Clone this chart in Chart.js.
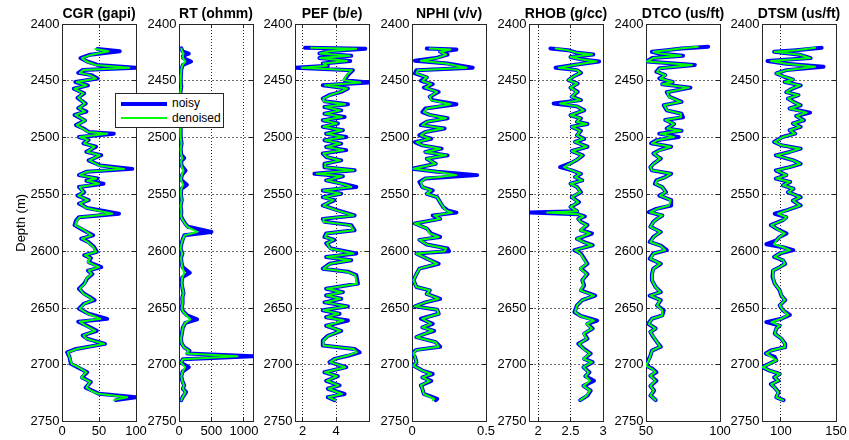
<!DOCTYPE html>
<html>
<head>
<meta charset="utf-8">
<script src="https://cdn.jsdelivr.net/npm/chart.js@4/dist/chart.umd.min.js"></script>
<style>
  html, body { margin: 0; padding: 0; background: #fff; }
  #wrap { position: relative; width: 849px; height: 440px; overflow: hidden; background: #fff; }
  #wrap canvas { position: absolute; top: 0; }
  #legend { position: absolute; left: 115px; top: 93px; width: 107px; height: 33px;
            border: 1px solid #262626; background: #fff; z-index: 10;
            font: 12px "Liberation Sans", Arial, sans-serif; color: #000; }
  #legend .swatch { position: absolute; left: 5px; width: 46px; }
  #legend .lbl { position: absolute; left: 56px; height: 16px; line-height: 16px; }
</style>
</head>
<body>
<div id="wrap">
  <div id="legend">
    <div class="swatch" style="top:8px;height:4px;background:#0000ff;"></div>
    <div class="lbl" style="top:1px;">noisy</div>
    <div class="swatch" style="top:23px;height:2px;background:#00ff00;"></div>
    <div class="lbl" style="top:16px;">denoised</div>
  </div>
</div>
<script>
// ---- well-log curves: depth (m) and log values, noisy vs denoised ----
const depthTicks = [2400, 2450, 2500, 2550, 2600, 2650, 2700, 2750];

// CGR (gapi)
const cgrTicks = [0, 50, 100];
const cgrDepth = [2422,2424,2427,2430,2433,2436,2438.5,2440.5,2443,2445,
  2448,2451,2454,2457,2461,2465,2470,2474,2477,2480,
  2485,2489,2492,2495,2496.5,2499.5,2502,2505,2508,2512.5,
  2515.5,2520,2524.5,2527.5,2530,2533,2536,2538,2540.5,2543.5,
  2548,2551,2555,2558,2562,2567,2570,2573,2577,2581.5,
  2586,2589,2592,2596,2600.5,2603.5,2606,2609.5,2614,2617,
  2620,2624,2628.5,2633,2637.5,2640,2643,2646,2650.5,2655,
  2659.5,2662,2665,2670,2674,2677,2681.5,2686,2689,2693,
  2699,2702,2706.5,2711,2715,2720,2723,2725.5,2728.5,2731];
const cgrDenoised = [45,63,40,27,33,45,91,29,24,38,
  46,20,33,17,29,22,31,23,31,18,
  31,20,28,35,61,24,35,30,44,34,
  51,37,50,84,34,24,46,34,50,24,
  29,22,35,24,33,68,24,20,18,30,
  40,27,35,42,46,31,38,35,50,36,
  40,33,31,24,29,36,42,31,24,35,
  52,24,31,45,29,33,57,20,8,10,
  13,22,33,26,38,33,40,49,88,70];
const cgrNoisy = [48,78,38,25,34,48,100,28,22,40,
  48,18,35,16,30,21,32,22,33,17,
  31,19,29,36,70,23,36,29,46,33,
  53,36,52,95,33,23,48,33,56,23,
  30,21,36,23,34,77,23,19,17,29,
  42,26,36,43,47,30,39,36,53,35,
  41,34,30,23,30,37,44,30,23,36,
  61,22,32,47,28,34,58,19,7,10,
  12,21,34,27,39,32,42,50,100,73];

// RT (ohmm)
const rtTicks = [0, 500, 1000];
const rtDepth = [2421.5,2424,2426,2428,2430,2433,2436,2440,2445,2450,
  2455,2460,2465,2470,2475,2480,2485,2490,2495,2500,
  2505,2510,2515,2518,2521,2525,2529,2533,2537,2541.5,
  2545,2550,2555,2560,2565,2569,2572.5,2576,2578.5,2583,
  2586,2590,2594,2598,2602,2606,2610,2614,2619,2623,
  2628,2633,2637,2641,2646,2650,2653,2656.5,2660,2663,
  2667,2672,2677,2681,2684.5,2687.5,2690,2692.5,2695,2698,
  2702,2706,2710,2714,2718,2721,2724,2728.5,2731];
const rtDenoised = [35,50,70,55,60,100,55,35,30,25,
  32,22,30,20,28,22,32,20,28,22,
  38,26,32,55,30,42,70,42,30,65,
  35,30,42,25,36,30,55,95,130,280,
  85,55,35,25,50,30,40,50,80,50,
  40,55,70,50,55,40,60,115,175,95,
  60,45,30,40,75,150,120,900,60,30,
  95,55,35,50,75,60,100,55,35];
const rtNoisy = [35,55,150,60,65,185,60,35,30,25,
  35,22,32,20,28,22,34,20,30,22,
  40,26,34,80,30,44,100,45,30,120,
  35,30,42,25,36,30,60,100,140,500,
  80,55,35,25,52,30,40,55,165,50,
  40,55,70,50,55,40,65,125,278,100,
  60,45,30,40,80,160,130,1140,60,30,
  150,55,35,50,80,60,110,55,35];

// PEF (b/e)
const pefTicks = [2, 4];
const pefDepth = [2421,2421.8,2424,2426,2428,2430,2432.6,2434.7,2436.8,2438.5,
  2440.6,2445,2449.4,2451.5,2454,2456.8,2459.7,2462.5,2465.6,2468,
  2470.6,2473,2476,2479,2481.8,2484.7,2487.6,2490.5,2493.5,2496.5,
  2499.4,2502.3,2505.3,2508.2,2511,2514,2517,2520,2523,2526,
  2528.8,2531.8,2534,2537.6,2541,2543.5,2546.5,2549.4,2552.4,2555,
  2559.7,2564,2568.5,2571.5,2574,2577,2581.5,2584.4,2587.4,2590,
  2593,2597.6,2602,2605,2608,2611,2615.3,2618,2621,2628.5,
  2633,2636,2639,2641.8,2645,2648.5,2652,2655,2658,2661,
  2665.6,2670,2674.4,2678.5,2683,2686,2689,2692,2694.7,2697.6,
  2702,2706.5,2710,2714,2718,2721,2725.6,2728.5,2731];
const pefDenoised = [2.5,5.2,3.6,3.04,4.8,3.04,4.64,3.24,3.44,1.94,
  4.94,4.64,4.44,5.44,3.34,4.64,4.24,3.64,3.24,3.24,
  4.54,3.34,4.24,3.34,4.34,3.24,4.04,3.24,4.34,3.44,
  4.44,3.34,4.24,3.44,4.44,3.24,3.44,4.24,3.34,3.34,
  5.04,2.84,4.34,3.44,4.44,4.9,3.24,4.24,3.24,3.84,
  3.24,4.04,5.04,3.24,3.24,4.84,5.04,3.44,3.34,3.84,
  3.44,3.64,5.04,3.44,4.84,3.64,3.24,4.64,5.14,5.24,
  3.44,4.34,3.44,4.24,3.34,4.64,3.24,4.14,3.44,4.44,
  3.44,4.24,3.54,3.24,3.24,5.04,5.24,4.64,3.94,3.64,
  4.54,3.34,4.04,3.44,4.14,3.54,4.34,3.54,3.94];
const pefNoisy = [2.14,5.74,3.5,3.0,4.9,3.0,4.84,3.2,3.5,1.54,
  5.0,4.7,4.5,5.96,3.2,4.7,4.3,3.6,3.2,3.3,
  4.7,3.3,4.3,3.3,4.5,3.2,4.1,3.2,4.4,3.4,
  4.6,3.3,4.3,3.4,4.6,3.2,3.4,4.3,3.3,3.3,
  5.1,2.7,4.4,3.4,4.5,5.2,3.2,4.3,3.2,3.9,
  3.2,4.1,5.1,3.2,3.3,4.9,5.1,3.4,3.3,3.9,
  3.4,3.7,5.2,3.4,4.9,3.6,3.2,4.7,5.2,5.3,
  3.4,4.4,3.4,4.3,3.3,4.7,3.2,4.2,3.4,4.7,
  3.4,4.3,3.5,3.2,3.2,5.1,5.4,4.7,3.9,3.6,
  4.6,3.3,4.1,3.4,4.2,3.5,4.5,3.5,3.9];

// NPHI (v/v)
const nphiTicks = [0, 0.5];
const nphiDepth = [2421.5,2422.5,2424.4,2427,2430,2432.4,2434.7,2438.5,2440.6,2443.5,
  2447,2450,2453,2456,2459.7,2464,2467,2470.6,2474.4,2477.5,
  2480,2483,2486,2489,2492,2495,2498,2501,2504,2506.8,
  2509.7,2512.6,2515.6,2518.5,2523,2527.4,2530,2533,2536,2539,
  2543.5,2546.5,2549.4,2552.4,2556.8,2561,2564,2566,2568.5,2571.5,
  2575.6,2580,2584.4,2587.4,2590,2594,2597.6,2600,2602,2606.5,
  2611,2615.3,2620,2625.6,2631.5,2634.4,2637.5,2641.8,2645,2648.5,
  2651.5,2655,2659.4,2663.8,2667,2670,2673,2675.6,2680,2684,
  2686.8,2689.7,2693,2697.6,2700.6,2705,2708,2711,2714,2718,
  2721,2725.6,2730,2731];
const nphiDenoised = [0.12,0.26,0.19,0.23,0.17,0.06,0.23,0.37,0.04,0.03,
  0.10,0.07,0.13,0.09,0.17,0.12,0.13,0.26,0.10,0.08,
  0.12,0.23,0.10,0.07,0.21,0.09,0.06,0.12,0.03,0.07,
  0.19,0.09,0.23,0.10,0.16,0.01,0.17,0.30,0.09,0.06,
  0.07,0.13,0.10,0.17,0.19,0.21,0.23,0.27,0.15,0.19,
  0.02,0.10,0.12,0.18,0.05,0.10,0.23,0.22,0.03,0.10,
  0.17,0.05,0.03,0.01,0.03,0.12,0.10,0.18,0.09,0.02,
  0.17,0.18,0.07,0.13,0.07,0.14,0.08,0.03,0.16,0.18,
  0.03,0.01,0.02,0.03,0.01,0.07,0.13,0.07,0.12,0.06,
  0.07,0.08,0.15,0.14];
const nphiNoisy = [0.10,0.30,0.19,0.24,0.16,0.02,0.24,0.41,0.03,0.02,
  0.10,0.06,0.14,0.08,0.18,0.12,0.14,0.30,0.09,0.07,
  0.12,0.24,0.10,0.06,0.22,0.09,0.05,0.13,0.02,0.07,
  0.20,0.09,0.24,0.10,0.16,0.00,0.17,0.44,0.09,0.05,
  0.07,0.14,0.10,0.17,0.19,0.21,0.24,0.30,0.14,0.19,
  0.02,0.10,0.13,0.19,0.05,0.10,0.24,0.25,0.03,0.10,
  0.18,0.05,0.03,0.01,0.03,0.12,0.10,0.19,0.09,0.02,
  0.17,0.18,0.06,0.14,0.07,0.15,0.08,0.03,0.16,0.19,
  0.03,0.00,0.02,0.03,0.01,0.07,0.14,0.07,0.13,0.06,
  0.07,0.08,0.17,0.16];

// RHOB (g/cc)
const rhobTicks = [2, 2.5, 3];
const rhobDepth = [2421.5,2423,2425,2426.8,2429,2431,2433,2435.6,2438.5,2440.6,
  2443,2446,2449.4,2452.4,2456,2459.7,2464,2467,2470,2472.5,
  2476,2480.3,2483,2486,2488,2490.5,2494,2498,2501,2503.8,
  2508,2511.8,2515.6,2519.4,2522,2526,2528.8,2531.8,2534.7,2537.6,
  2540.6,2543.5,2548,2552.4,2556.8,2561,2564.7,2566,2567.5,2569.4,
  2571.5,2574,2577,2581.5,2584.4,2589,2592,2594.7,2599,2602,
  2606.5,2611,2615.3,2620,2625.6,2630,2634.4,2639,2643,2647.6,
  2653.5,2657,2661,2664,2668,2672.5,2677,2681.5,2686,2690,
  2694.7,2697.6,2702,2706.5,2710,2714,2718.5,2722.6,2727,2731];
const rhobDenoised = [2.27,2.45,2.58,2.83,2.50,2.65,2.90,2.60,2.32,2.60,
  2.65,2.55,2.47,2.60,2.50,2.60,2.52,2.65,2.34,2.60,
  2.70,2.50,2.65,2.60,2.75,2.52,2.65,2.60,2.70,2.57,
  2.75,2.52,2.68,2.60,2.52,2.40,2.52,2.65,2.57,2.68,
  2.50,2.60,2.65,2.52,2.62,2.50,2.60,2.14,2.62,2.70,
  2.62,2.65,2.75,2.65,2.80,2.60,2.70,2.83,2.57,2.65,
  2.70,2.75,2.65,2.75,2.68,2.70,2.65,2.86,2.68,2.60,
  2.57,2.65,2.86,2.75,2.83,2.70,2.75,2.63,2.70,2.80,
  2.70,2.83,2.70,2.78,2.73,2.80,2.70,2.80,2.75,2.65];
const rhobNoisy = [2.19,2.46,2.58,2.85,2.50,2.66,2.94,2.60,2.27,2.60,
  2.66,2.55,2.47,2.61,2.50,2.61,2.52,2.66,2.24,2.60,
  2.71,2.50,2.66,2.60,2.76,2.52,2.66,2.60,2.71,2.57,
  2.76,2.52,2.69,2.60,2.52,2.34,2.52,2.66,2.57,2.68,
  2.50,2.60,2.66,2.52,2.63,2.50,2.60,1.87,2.62,2.72,
  2.62,2.66,2.76,2.66,2.83,2.60,2.71,2.84,2.56,2.66,
  2.71,2.76,2.66,2.76,2.68,2.71,2.66,2.88,2.68,2.60,
  2.56,2.66,2.91,2.76,2.84,2.71,2.76,2.62,2.71,2.81,
  2.71,2.84,2.70,2.79,2.73,2.86,2.70,2.81,2.76,2.65];

// DTCO (us/ft)
const dtcoTicks = [50, 100];
const dtcoDepth = [2420,2421.5,2423,2424.5,2426,2428,2430,2433,2436,2439,
  2442,2445,2448,2451,2453,2456,2460,2464,2468.5,2471.5,
  2476,2479,2482,2484.5,2488,2492,2494,2496.5,2499.4,2502.3,
  2505,2508,2511,2514,2518.5,2523,2526,2528.8,2531.8,2534.7,
  2537.6,2540.6,2543.5,2548,2551,2555,2559.7,2562.7,2565.6,2568.5,
  2571.5,2574,2578.5,2583,2587.4,2591.8,2595,2599,2602,2606.5,
  2611,2615.3,2620,2625.6,2631.5,2636,2639,2643,2647.6,2652,
  2656.5,2659.4,2663.8,2668,2671,2675.6,2680,2684,2687.4,2691.8,
  2696,2700.6,2703.5,2706.5,2709.5,2714,2718.5,2722.6,2727,2731];
const dtcoDenoised = [85,73,64.4,55,59.6,73.5,55,50.7,81,59.6,
  57.5,63,59.6,67.8,61,79,64.4,65.5,73.5,62.3,
  64.4,73.5,73.5,63.2,68.9,64.4,73.5,59.6,68.9,57.5,
  54.1,66.6,59.6,55.2,59.6,55.2,53,54.1,66.6,63.2,
  57.5,56.4,61,63.2,59.6,66.6,65.5,57.5,53,61,
  57.5,55.2,53,59.6,55.2,53,59.6,63,55.2,53,
  59.6,55.2,54.1,54.1,56.4,59.6,53,59.6,57.5,61,
  61,54.1,51.8,56.4,53,55.2,57.5,59.6,54.1,53,
  51.8,50,54.1,56.4,53,56.4,53,55.2,53,56.4];
const dtcoNoisy = [92,74,64,54,59,75,54,50.5,83,59,
  57,63,59,68,61,80,64,66,74,62,
  64,74,75,63,69,64,74,59,72,57,
  53.5,67,59,55,60,55,53,54,67,63,
  57,56,61,63.5,59,67,67,57,52,61,
  57.5,55,53,60,55,52.5,60,64,55,52.5,
  60,55,54,54,56.5,60,52.5,60,57.5,62,
  61,54,51.5,56.5,53,55,57.5,60,54,53,
  51.5,50,54.5,57,53,57,53,55.5,53,56.5];

// DTSM (us/ft)
const dtsmTicks = [100, 150];
const dtsmDepth = [2421,2423,2424.5,2427,2430,2432.6,2435,2437.6,2440.6,2443.5,
  2446,2449,2451,2454,2457,2460,2462.6,2465.6,2468.5,2471.5,
  2474.4,2478,2481,2484.7,2487.6,2490.5,2493.5,2496.5,2499.4,2503.8,
  2506.7,2509.7,2512.6,2515.6,2520,2523,2526,2528.8,2533,2536,
  2539,2542,2545,2548,2552.4,2555.5,2559.7,2564,2567,2570,
  2572.6,2577,2580,2584.4,2587.4,2590.5,2593.8,2596.5,2599,2602,
  2605,2608,2611,2614,2617,2622.6,2628.5,2634.4,2639,2643,
  2647.6,2652,2656,2659.4,2662.4,2665.4,2668,2672.5,2677,2681.5,
  2684.4,2687.4,2690,2693,2696,2699,2702,2705,2708,2711,
  2714,2717,2720,2724,2728.5,2731];
const dtsmDenoised = [131,114.3,94.5,117.4,126.5,91,105.2,131,105.2,96,
  102.1,111,103.7,117.4,109.8,105.2,115.9,106.7,111.3,117.4,
  108.2,123.5,114.3,120.4,111.3,117.4,108.2,112.8,102.1,94.5,
  100.6,117.4,108.2,96,111.3,117.4,108.2,96,105.2,96,
  108.2,102.1,111.3,106.7,117.4,111.3,117.4,105.2,97.6,105.2,
  102.1,91.5,96,103.7,99.1,96,94,102.1,108.2,99.1,
  94.5,102.1,103.7,99.1,93,93,94.5,99.1,100.6,103.7,
  99.1,102.1,106.7,100.6,91.5,99.1,96,94.5,100.6,103.7,
  103.7,91.5,86.9,91.5,96,89.9,83.8,89.9,99.1,94.5,
  97.6,91.5,94.5,97.6,96,102.1];
const dtsmNoisy = [137,114,94,117,127,88,105,138.7,105,96,
  102,111,103.5,118,110,105,116,106.5,111.5,118,
  108,126.5,114,121,111,118,108,113,101.5,94,
  100.5,118,108,95.5,111.5,118,108,95.5,105,95.5,
  108.5,102,111.5,106.5,118,111,118,105,94.5,105,
  102,91,96,105.2,99,96,87,102,111.3,99,
  94,102,104,99,93,92.5,94.5,99,100.5,104,
  99,102,108.2,100.5,86.9,99,96,94.5,100.5,104,
  104,91,86.5,94.5,96,89.5,83.2,90,99,94,
  98,91,94.5,98,96,102.5];

// ---- layout and drawing ----
const FONT = '"Liberation Sans", Arial, Helvetica, sans-serif';
const PLOT_W = 74;

const tracks = [
  { title: 'CGR (gapi)',   depth: cgrDepth,  noisy: cgrNoisy,  den: cgrDenoised,  min: 0,    max: 100,  ticks: cgrTicks,  left: 62 },
  { title: 'RT (ohmm)',    depth: rtDepth,   noisy: rtNoisy,   den: rtDenoised,   min: 0,    max: 1140, ticks: rtTicks,   left: 178.5 },
  { title: 'PEF (b/e)',    depth: pefDepth,  noisy: pefNoisy,  den: pefDenoised,  min: 1.54, max: 5.96, ticks: pefTicks,  left: 295 },
  { title: 'NPHI (v/v)',   depth: nphiDepth, noisy: nphiNoisy, den: nphiDenoised, min: 0,    max: 0.5,  ticks: nphiTicks, left: 411.5 },
  { title: 'RHOB (g/cc)',  depth: rhobDepth, noisy: rhobNoisy, den: rhobDenoised, min: 1.86, max: 3.0,  ticks: rhobTicks, left: 529 },
  { title: 'DTCO (us/ft)', depth: dtcoDepth, noisy: dtcoNoisy, den: dtcoDenoised, min: 50,   max: 100,  ticks: dtcoTicks, left: 645.5 },
  { title: 'DTSM (us/ft)', depth: dtsmDepth, noisy: dtsmNoisy, den: dtsmDenoised, min: 83,   max: 150,  ticks: dtsmTicks, left: 762 }
];

const wrap = document.getElementById('wrap');
const setTicks = list => scale => { scale.ticks = list.map(v => ({ value: v })); };
// axis box line; its dash pattern is what Chart.js v4 applies to the grid lines
const boxFor = dash => ({ display: true, color: '#262626', width: 1, dash: dash });
const gridFor = color => ({ color: color, lineWidth: 1, drawTicks: true, tickLength: -4,
                            tickColor: '#262626', tickBorderDash: [] });
const edgeTicks = { display: true, drawOnChartArea: false, drawTicks: true, tickLength: -4,
                    tickColor: '#262626', tickBorderDash: [] };

tracks.forEach((t, i) => {
  const axisW = i === 0 ? 62 : 40;
  const W = axisW * 2 + PLOT_W;
  const canvas = document.createElement('canvas');
  canvas.width = W; canvas.height = 440;
  canvas.style.width = W + 'px'; canvas.style.height = '440px';
  canvas.style.left = (t.left - axisW) + 'px';
  wrap.appendChild(canvas);

  const pts = vals => t.depth.map((d, k) => ({ x: vals[k], y: d }));

  new Chart(canvas, {
    type: 'scatter',
    data: {
      datasets: [
        { label: 'noisy', data: pts(t.noisy), showLine: true, borderColor: '#0000ff',
          borderWidth: 4, pointRadius: 0, borderJoinStyle: 'round', borderCapStyle: 'round',
          order: 2, xAxisID: 'x', yAxisID: 'y' },
        { label: 'denoised', data: pts(t.den), showLine: true, borderColor: '#00ff00',
          borderWidth: 2, pointRadius: 0, borderJoinStyle: 'round', borderCapStyle: 'round',
          order: 1, xAxisID: 'x', yAxisID: 'y' }
      ]
    },
    options: {
      responsive: false, animation: false, devicePixelRatio: 1,
      layout: { padding: 0 },
      events: [],
      plugins: {
        legend: { display: false },
        tooltip: { enabled: false },
        title: { display: true, text: t.title, color: '#000',
                 font: { family: FONT, size: 14, weight: 'bold', lineHeight: 1.2 },
                 padding: { top: 5.3, bottom: 1.9 } }
      },
      scales: {
        x: {
          type: 'linear', position: 'bottom', min: t.min, max: t.max,
          afterBuildTicks: setTicks(t.ticks),
          afterFit: s => { s.height = 18.3; },
          ticks: { color: '#000', font: { family: FONT, size: 13 }, padding: 6,
                   maxRotation: 0, autoSkip: false, callback: v => String(v) },
          grid: gridFor('rgba(20,20,20,0.9)'), border: boxFor([1, 2])
        },
        x2: {
          type: 'linear', position: 'top', min: t.min, max: t.max,
          afterBuildTicks: setTicks(t.ticks),
          afterFit: s => { s.height = 0; },
          ticks: { display: false },
          grid: edgeTicks, border: boxFor([])
        },
        y: {
          type: 'linear', position: 'left', reverse: true, min: 2400, max: 2750,
          afterBuildTicks: setTicks(depthTicks),
          afterFit: s => { s.width = axisW; },
          ticks: { color: '#000', font: { family: FONT, size: 13 }, padding: 6.5,
                   autoSkip: false, callback: v => String(v) },
          grid: gridFor('rgba(60,60,60,0.75)'), border: boxFor([2, 2]),
          title: i === 0
            ? { display: true, text: 'Depth (m)', color: '#000', font: { family: FONT, size: 13 },
                padding: { top: 14, bottom: 0 } }
            : { display: false }
        },
        y2: {
          type: 'linear', position: 'right', reverse: true, min: 2400, max: 2750,
          afterBuildTicks: setTicks(depthTicks),
          afterFit: s => { s.width = axisW; },
          ticks: { display: false },
          grid: edgeTicks, border: boxFor([])
        }
      }
    }
  });
});
</script>
</body>
</html>
